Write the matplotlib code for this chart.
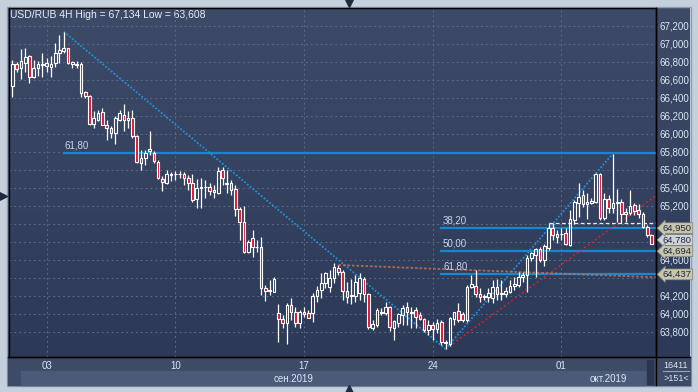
import matplotlib
matplotlib.use("Agg")
import matplotlib.pyplot as plt
import numpy as np
from matplotlib.colors import LinearSegmentedColormap
from matplotlib.ticker import FuncFormatter
from matplotlib.transforms import blended_transform_factory
from matplotlib.patches import Rectangle

plt.rcParams['font.family'] = ['Liberation Sans', 'DejaVu Sans']

# USD/RUB, 4H свечи (конец авг. - начало окт. 2019)
opens = [66.530, 66.771, 66.727, 66.789, 66.863, 66.627, 66.727, 66.768, 66.756, 66.744,
         66.782, 66.893, 66.922, 66.949, 66.774, 66.771, 66.771, 66.460, 66.416, 66.108,
         66.156, 66.241, 66.100, 66.063, 66.004, 66.156, 66.204, 66.156, 66.174, 65.971,
         65.678, 65.730, 65.804, 65.789, 65.689, 65.497, 65.456, 65.545, 65.547, 65.547,
         65.549, 65.504, 65.449, 65.271, 65.393, 65.404, 65.408, 65.356, 65.344, 65.597,
         65.438, 65.449, 65.382, 65.160, 65.016, 64.689, 64.838, 64.741, 64.744, 64.282,
         64.256, 64.244, 64.004, 63.938, 63.893, 64.097, 64.022, 63.893, 64.022, 64.004,
         64.004, 64.197, 64.263, 64.338, 64.300, 64.393, 64.511, 64.467, 64.252, 64.197,
         64.200, 64.227, 64.386, 64.216, 63.845, 63.874, 64.022, 64.008, 64.074, 63.838,
         63.893, 63.986, 64.071, 64.004, 64.041, 63.986, 63.941, 63.819, 63.874, 63.830,
         63.905, 63.682, 63.660, 63.941, 64.030, 63.993, 63.930, 64.300, 64.311, 64.216,
         64.189, 64.189, 64.171, 64.300, 64.219, 64.219, 64.244, 64.311, 64.319, 64.404,
         64.430, 64.616, 64.652, 64.716, 64.597, 64.727, 64.949, 64.886, 64.882, 64.893,
         64.763, 65.041, 65.233, 65.319, 65.219, 65.233, 65.244, 65.552, 65.060, 65.271,
         65.171, 65.227, 65.244, 65.108, 65.122, 65.208, 65.152, 65.108, 64.967, 64.874]
highs = [66.819, 66.800, 66.938, 66.949, 66.874, 66.819, 66.808, 66.893, 66.838, 66.863,
         67.004, 67.097, 67.134, 66.952, 66.808, 66.808, 66.800, 66.478, 66.433, 66.249,
         66.267, 66.286, 66.156, 66.082, 66.197, 66.267, 66.330, 66.256, 66.267, 65.985,
         65.822, 65.822, 66.030, 65.804, 65.711, 65.527, 65.597, 65.578, 65.586, 65.586,
         65.578, 65.541, 65.549, 65.493, 65.508, 65.486, 65.449, 65.430, 65.633, 65.633,
         65.597, 65.486, 65.430, 65.189, 65.200, 64.819, 64.930, 64.819, 64.849, 64.319,
         64.374, 64.408, 64.108, 63.986, 64.116, 64.171, 64.074, 64.041, 64.071, 64.041,
         64.233, 64.308, 64.449, 64.467, 64.486, 64.560, 64.541, 64.486, 64.356, 64.386,
         64.430, 64.449, 64.411, 64.233, 63.930, 64.060, 64.060, 64.133, 64.086, 63.930,
         64.008, 64.097, 64.133, 64.078, 64.078, 64.016, 63.949, 63.930, 63.911, 63.941,
         63.930, 63.708, 63.967, 64.022, 64.116, 64.022, 64.319, 64.430, 64.486, 64.282,
         64.216, 64.282, 64.374, 64.382, 64.374, 64.300, 64.374, 64.411, 64.467, 64.467,
         64.652, 64.689, 64.727, 64.738, 64.775, 65.004, 65.004, 64.930, 64.949, 64.949,
         65.152, 65.263, 65.449, 65.374, 65.338, 65.282, 65.567, 65.560, 65.338, 65.319,
         65.780, 65.382, 65.271, 65.171, 65.374, 65.227, 65.219, 65.133, 64.986, 64.886]
lows = [66.411, 66.689, 66.604, 66.689, 66.560, 66.619, 66.641, 66.633, 66.689, 66.627,
        66.744, 66.782, 66.893, 66.771, 66.727, 66.727, 66.411, 66.397, 66.093, 66.063,
        66.138, 66.093, 65.933, 65.952, 65.886, 66.138, 66.027, 66.063, 65.952, 65.674,
        65.600, 65.656, 65.763, 65.674, 65.500, 65.363, 65.438, 65.474, 65.486, 65.508,
        65.430, 65.374, 65.244, 65.171, 65.171, 65.289, 65.319, 65.289, 65.330, 65.430,
        65.338, 65.319, 65.089, 64.819, 64.678, 64.671, 64.633, 64.689, 64.208, 64.144,
        64.208, 64.241, 63.682, 63.838, 63.660, 63.930, 63.852, 63.838, 63.963, 63.949,
        63.911, 64.133, 64.171, 64.282, 64.241, 64.338, 64.430, 64.152, 64.116, 64.104,
        64.133, 64.152, 64.133, 63.830, 63.819, 63.856, 63.986, 63.986, 63.808, 63.708,
        63.852, 63.874, 63.874, 63.845, 63.845, 63.930, 63.800, 63.763, 63.708, 63.782,
        63.652, 63.608, 63.645, 63.874, 63.911, 63.911, 63.911, 64.282, 64.189, 64.133,
        64.152, 64.133, 64.116, 64.152, 64.152, 64.189, 64.227, 64.263, 64.300, 64.356,
        64.244, 64.589, 64.404, 64.578, 64.530, 64.708, 64.819, 64.789, 64.819, 64.763,
        64.752, 64.997, 65.078, 65.189, 65.049, 65.219, 65.227, 65.041, 65.041, 65.122,
        65.116, 65.022, 65.004, 65.022, 65.097, 65.097, 65.060, 64.949, 64.856, 64.775]
closes = [66.771, 66.719, 66.808, 66.856, 66.627, 66.727, 66.771, 66.771, 66.789, 66.771,
          66.893, 66.930, 66.949, 66.782, 66.800, 66.768, 66.456, 66.416, 66.108, 66.174,
          66.230, 66.100, 66.063, 66.004, 66.174, 66.230, 66.156, 66.174, 65.971, 65.686,
          65.730, 65.786, 65.833, 65.693, 65.508, 65.460, 65.549, 65.549, 65.549, 65.549,
          65.504, 65.449, 65.263, 65.393, 65.411, 65.408, 65.363, 65.374, 65.586, 65.504,
          65.456, 65.374, 65.160, 65.016, 64.689, 64.800, 64.744, 64.744, 64.282, 64.256,
          64.263, 64.386, 63.938, 63.893, 64.097, 64.022, 63.893, 64.016, 63.993, 63.956,
          64.197, 64.263, 64.338, 64.449, 64.397, 64.522, 64.467, 64.252, 64.189, 64.208,
          64.356, 64.393, 64.216, 63.856, 63.886, 64.041, 64.004, 64.074, 63.852, 63.919,
          63.993, 64.067, 64.022, 64.022, 63.967, 63.941, 63.819, 63.874, 63.830, 63.893,
          63.682, 63.671, 63.949, 64.016, 63.930, 63.930, 64.300, 64.327, 64.216, 64.189,
          64.193, 64.227, 64.300, 64.219, 64.233, 64.256, 64.311, 64.330, 64.404, 64.430,
          64.616, 64.671, 64.716, 64.597, 64.752, 64.949, 64.874, 64.849, 64.886, 64.775,
          65.049, 65.244, 65.300, 65.219, 65.241, 65.256, 65.552, 65.060, 65.271, 65.171,
          65.227, 65.241, 65.108, 65.133, 65.197, 65.144, 65.108, 64.967, 64.874, 64.780]

# подписи оси времени
week_idx = [8, 38, 68, 98, 128]
week_labels = ['03', '10', '17', '24', '01']
month_labels = ['сен.2019', 'окт.2019']
month_break = 128

# точки разворота для Фибоначчи
peak_i, trough_i, peak2_i = 12, 101, 140
fib1_ratio, fib1_label = 0.618, '61,80'
fib2_start = 100
fib2_labels = ['38,20', '50,00', '61,80']
fib2_levels = [64.950, 64.694, 64.437]
red_line_x, red_line_y = [101, 150], [63.608, 65.31]
orange_line_x, orange_line_y = [76, 150], [64.541, 64.405]
dash_level, dash_start = 65.011, 125

fig = plt.figure(figsize=(6.98, 3.92), dpi=100)
fig.patch.set_facecolor('#c5d0dc')

# слой интерфейса в пикселях
ui = fig.add_axes([0, 0, 1, 1], zorder=0)
ui.axis('off')
grad = LinearSegmentedColormap.from_list('bg', ['#3e4b68', '#2c3957'])
ui.imshow(np.linspace(0, 1, 256).reshape(-1, 1), cmap=grad, aspect='auto',
          extent=(8, 690, 357, 8), origin='upper')
ui.add_patch(Rectangle((7, 7), 684, 379, fill=False, ec='#8f9db0', lw=1))
ui.add_patch(Rectangle((8, 357), 682, 28, color='#3e4b67'))
ui.add_patch(Rectangle((21, 371), 625, 14, color='#4b5a78'))
ui.add_patch(Rectangle((647, 360), 6, 24, color='#2a3550'))
ui.plot([8, 690], [357, 357], color='black', lw=1)
ui.plot([655.7, 655.7], [8, 385], color='black', lw=1)
ui.plot([663, 689], [371, 371], color='#9aa6b8', lw=0.8)
ui.text(676, 365, '16411', color='#dce6f2', fontsize=6.5, ha='center', va='center')
ui.text(676, 378.5, '>151<', color='#dce6f2', fontsize=6.5, ha='center', va='center')
ui.plot(349, 3, marker='v', ms=6, color='#1f2a40')
ui.plot(349, 389, marker='^', ms=6, color='#1f2a40')
ui.plot(3, 196, marker='>', ms=6, color='#1f2a40')
ui.text(10, 14.5, 'USD/RUB 4H High = {:.3f} Low = {:.3f}'.format(max(highs), min(lows)).replace('.', ','),
        color='#e6edf6', fontsize=7.5, va='center')
ui.set_xlim(0, 698)
ui.set_ylim(392, 0)

ax = fig.add_axes([8.7 / 698, 35 / 392, 647 / 698, 349 / 392], zorder=1)
ax.set_facecolor('none')

x = np.arange(len(opens))
o, h, l, c = map(np.array, (opens, highs, lows, closes))
top = np.maximum(o, c)
bot = np.minimum(o, c)
up = c >= o

# сетка
grid_levels = np.arange(63.8, 67.25, 0.2)
for lvl in grid_levels:
    ax.axhline(lvl, color='#5a6a8a', lw=0.7, ls=(0, (2, 3)), zorder=1)
for wi in week_idx:
    ax.axvline(wi, color='#5a6a8a', lw=0.7, ls=(0, (2, 3)), zorder=1)

# уровни Фибоначчи и линии тренда
x_right = 149.98
fib1 = lows[trough_i] + fib1_ratio * (highs[peak_i] - lows[trough_i])
ax.plot([peak_i, x_right], [fib1, fib1], color='#1688d0', lw=1.6, zorder=2)
ax.text(peak_i + 0.2, fib1 + 0.03, fib1_label, color='#c6d6ea', fontsize=7, va='bottom', zorder=6)
for lab, lvl in zip(fib2_labels, fib2_levels):
    ax.plot([fib2_start, x_right], [lvl, lvl], color='#1688d0', lw=1.6, zorder=2)
    ax.text(fib2_start + 0.4, lvl + 0.03, lab, color='#c6d6ea', fontsize=7, va='bottom', zorder=6)
ax.plot([peak_i, trough_i], [highs[peak_i], lows[trough_i]], color='#1a93dc', lw=1.3,
        ls=(0, (1, 1)), zorder=2)
ax.plot([trough_i, peak2_i], [lows[trough_i], highs[peak2_i]], color='#1a93dc', lw=1.3,
        ls=(0, (1, 1)), zorder=2)
ax.plot(red_line_x, red_line_y, color='#d0202e', lw=1.3, ls=(0, (1, 1.5)), zorder=2)
ax.plot(orange_line_x, orange_line_y, color='#c07058', lw=1.3, ls=(0, (1.5, 1)), alpha=0.85, zorder=2)
ax.plot([dash_start, x_right], [dash_level, dash_level], color='#e8ecf2', lw=0.9,
        ls=(0, (3, 2)), zorder=2)

# свечи
ax.vlines(x, top, h, color='white', lw=0.9, zorder=3)
ax.vlines(x, l, bot, color='white', lw=0.9, zorder=3)
ax.bar(x, np.maximum(top - bot, 0.004), bottom=bot, width=0.62,
       color=np.where(up, 'none', '#e3102f'), edgecolor='white', linewidth=0.8, zorder=4)

ax.set_xlim(-0.84, x_right)
ax.set_ylim(63.519, 67.397)

# ценовые метки справа закрывают соседние подписи оси
tag_values = [closes[-1]] + fib2_levels


def price_fmt(v, pos=None):
    if min(abs(v - t) for t in tag_values) < 0.06:
        return ''
    return '{:.3f}'.format(v).replace('.', ',')


ax.yaxis.tick_right()
ax.set_yticks(grid_levels)
ax.yaxis.set_major_formatter(FuncFormatter(price_fmt))
ax.tick_params(axis='y', length=0, pad=2.5, labelsize=7, labelcolor='#dce6f2')
ax.set_xticks(week_idx, week_labels)
ax.tick_params(axis='x', length=0, pad=3, labelsize=7, labelcolor='#dce6f2')
for s in ax.spines.values():
    s.set_color('black')
    s.set_linewidth(1)

# подписи месяцев
bt = blended_transform_factory(ax.transData, ax.transAxes)
month_centers = [(-0.84 + month_break) / 2 + 2, (month_break + x_right) / 2]
for lab, mc in zip(month_labels, month_centers):
    ax.text(mc, -0.063, lab, transform=bt, color='#dce6f2', fontsize=7, ha='center', va='center')

bt_y = blended_transform_factory(ax.transAxes, ax.transData)
tags = [(closes[-1], '#cfd3d9', 2.6)] + [(lvl, '#c9c5ab', 0) for lvl in fib2_levels]
for val, fc, lift in tags:
    ax.annotate('{:.3f}'.format(val).replace('.', ','), xy=(1.011, val), xycoords=bt_y,
                xytext=(0, lift), textcoords='offset points', fontsize=6.8,
                color='#1c2740', va='center', ha='left', zorder=8, annotation_clip=False,
                bbox=dict(boxstyle='larrow,pad=0.1', fc=fc, ec='#7d7f78', lw=0.5))

fig.savefig('out.png', dpi=100, facecolor=fig.get_facecolor())
